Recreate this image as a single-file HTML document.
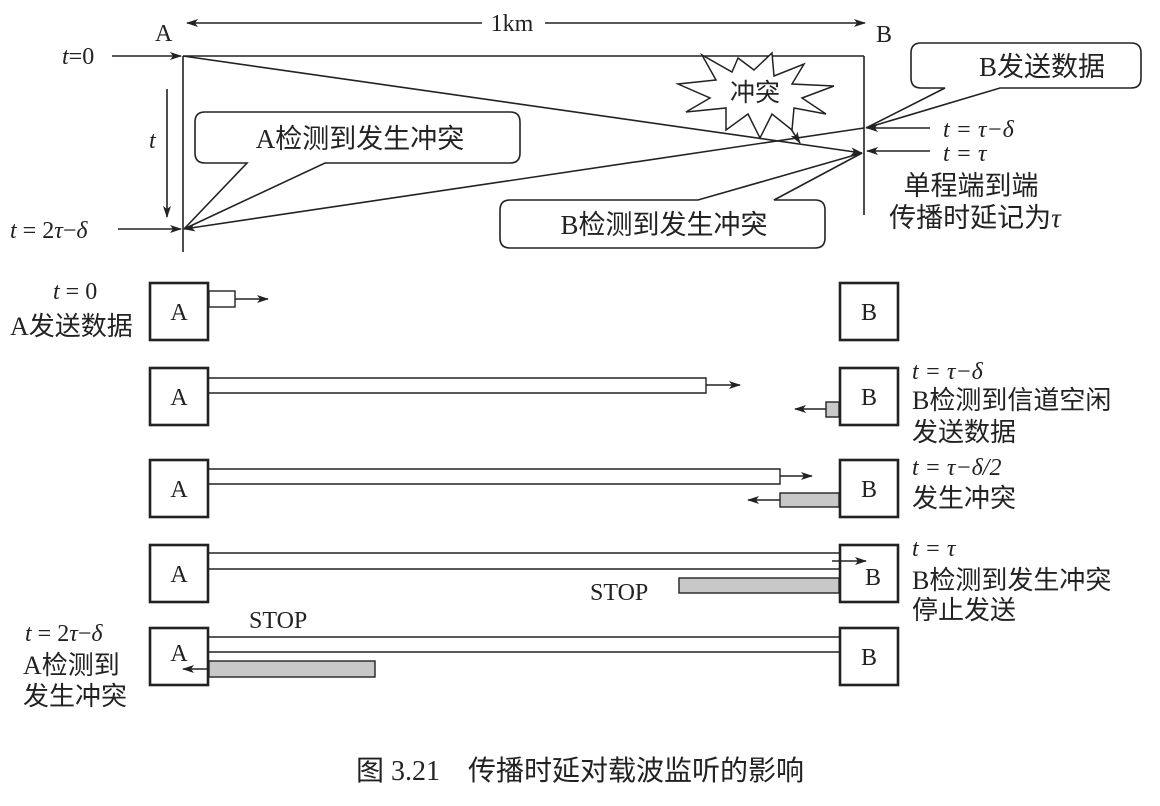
<!DOCTYPE html>
<html><head><meta charset="utf-8"><style>
html,body{margin:0;padding:0;background:#fff;}
svg{display:block;}
text{font-family:"Liberation Serif","Noto Sans CJK SC",serif;fill:#222;}
.c{font-family:"Liberation Serif","Noto Sans CJK SC",sans-serif;}
.i{font-style:italic;}
</style></head><body>
<svg width="1160" height="806" viewBox="0 0 1160 806" xmlns="http://www.w3.org/2000/svg">
<defs>
<marker id="ar" markerWidth="12" markerHeight="8" refX="11" refY="4" orient="auto" markerUnits="userSpaceOnUse">
<path d="M0,0 L12,4 L0,8 L3,4 Z" fill="#222"/></marker>
</defs>
<g stroke="#222" stroke-width="1.6" fill="none">
<line x1="482" y1="23" x2="187" y2="23" marker-end="url(#ar)"/>
<line x1="545" y1="23" x2="865" y2="23" marker-end="url(#ar)"/>
<line x1="183" y1="56" x2="864" y2="56"/>
<line x1="183" y1="56" x2="183" y2="252"/>
<line x1="864" y1="56" x2="864" y2="215"/>
<line x1="112" y1="56" x2="181" y2="56" marker-end="url(#ar)"/>
<line x1="118" y1="229" x2="181" y2="229" marker-end="url(#ar)"/>
<line x1="167" y1="89" x2="167" y2="217" marker-end="url(#ar)"/>
<line x1="183" y1="56" x2="862" y2="153" marker-end="url(#ar)"/>
<line x1="864" y1="128" x2="184" y2="229" marker-end="url(#ar)"/>
<line x1="930" y1="128" x2="867" y2="128" marker-end="url(#ar)"/>
<line x1="930" y1="151" x2="867" y2="151" marker-end="url(#ar)"/>
<line x1="782" y1="115" x2="800" y2="143" marker-end="url(#ar)"/>
</g>
<path d="M205,112 H510 Q520,112 520,122 V153 Q520,163 510,163 H325 L184,229 L247,163 H205 Q195,163 195,153 V122 Q195,112 205,112 Z" fill="#fff" stroke="#222" stroke-width="1.6"/>
<text x="360" y="148" font-size="27" text-anchor="middle" class="c">A检测到发生冲突</text>
<path d="M510,200 H698 L862,153 L774,200 H815 Q825,200 825,210 V238 Q825,248 815,248 H510 Q500,248 500,238 V210 Q500,200 510,200 Z" fill="#fff" stroke="#222" stroke-width="1.6"/>
<text x="664" y="234" font-size="27" text-anchor="middle" class="c">B检测到发生冲突</text>
<path d="M921,43 H1131 Q1141,43 1141,53 V78 Q1141,88 1131,88 H1000 L866,128 L945,88 H921 Q911,88 911,78 V53 Q911,43 921,43 Z" fill="#fff" stroke="#222" stroke-width="1.6"/>
<text x="1042" y="76" font-size="27" text-anchor="middle" class="c">B发送数据</text>
<polygon points="738,58 754,70 772,53 774,76 804,64 792,84 834,86 802,98 826,114 794,108 792,130 772,114 760,138 748,114 726,130 726,108 686,112 710,98 678,84 716,80 702,55 732,72" fill="#fff" stroke="#222" stroke-width="1.5"/>
<text x="755" y="101" font-size="25" text-anchor="middle" class="c">冲突</text>
<text x="155" y="41" font-size="24">A</text>
<text x="876" y="42" font-size="24">B</text>
<text x="512" y="31" font-size="24" text-anchor="middle">1km</text>
<text x="62" y="64" font-size="24"><tspan class="i">t</tspan>=0</text>
<text x="149" y="148" font-size="24" class="i">t</text>
<text x="10" y="238" font-size="24"><tspan class="i">t</tspan> = 2<tspan class="i">τ</tspan>−<tspan class="i">δ</tspan></text>
<text x="943" y="137" font-size="24" class="i">t = τ−δ</text>
<text x="943" y="161" font-size="24" class="i">t = τ</text>
<text x="971" y="195" font-size="27" text-anchor="middle" class="c">单程端到端</text>
<text x="975" y="227" font-size="27" text-anchor="middle" class="c">传播时延记为<tspan class="i">τ</tspan></text>
<g fill="#fff" stroke="#222" stroke-width="2.6">
<rect x="150" y="283" width="58" height="57"/><rect x="840" y="283" width="58" height="57"/>
<rect x="150" y="368" width="58" height="57"/><rect x="840" y="368" width="58" height="57"/>
<rect x="150" y="460" width="58" height="57"/><rect x="840" y="460" width="58" height="57"/>
<rect x="150" y="545" width="58" height="57"/><rect x="840" y="545" width="58" height="57"/>
<rect x="150" y="628" width="58" height="57"/><rect x="840" y="628" width="58" height="57"/>
</g>
<g font-size="24" text-anchor="middle">
<text x="179" y="320">A</text><text x="869" y="320">B</text>
<text x="179" y="405">A</text><text x="869" y="405">B</text>
<text x="179" y="497">A</text><text x="869" y="497">B</text>
<text x="179" y="582">A</text><text x="873" y="585">B</text>
<text x="179" y="661">A</text><text x="869" y="665">B</text>
</g>
<g stroke="#222" stroke-width="1.4" fill="none">
<rect x="209" y="291" width="26" height="16" fill="#fff"/>
<line x1="235" y1="299" x2="268" y2="299" marker-end="url(#ar)"/>
<path d="M209,378 H706 V393 H209"/>
<line x1="706" y1="385" x2="740" y2="385" marker-end="url(#ar)"/>
<rect x="826" y="402" width="13" height="15" fill="#c8c8c8"/>
<line x1="826" y1="409" x2="795" y2="409" marker-end="url(#ar)"/>
<path d="M209,469 H780 V484 H209"/>
<line x1="780" y1="476" x2="812" y2="476" marker-end="url(#ar)"/>
<rect x="780" y="493" width="59" height="14" fill="#c8c8c8"/>
<line x1="780" y1="500" x2="748" y2="500" marker-end="url(#ar)"/>
<line x1="209" y1="553" x2="840" y2="553"/>
<line x1="209" y1="569" x2="840" y2="569"/>
<line x1="832" y1="561" x2="866" y2="561" marker-end="url(#ar)"/>
<rect x="679" y="578" width="160" height="15" fill="#c8c8c8"/>
<line x1="209" y1="637" x2="840" y2="637"/>
<line x1="209" y1="652" x2="840" y2="652"/>
<rect x="209" y="661" width="166" height="16" fill="#c8c8c8"/>
<line x1="209" y1="669" x2="183" y2="669" marker-end="url(#ar)"/>
</g>
<text x="590" y="600" font-size="24">STOP</text>
<text x="249" y="628" font-size="24">STOP</text>
<text x="53" y="299" font-size="24"><tspan class="i">t</tspan> = 0</text>
<text x="10" y="335" font-size="26" class="c">A发送数据</text>
<text x="912" y="379" font-size="24" class="i">t = τ−δ</text>
<text x="912" y="409" font-size="26" class="c">B检测到信道空闲</text>
<text x="912" y="441" font-size="26" class="c">发送数据</text>
<text x="912" y="475" font-size="24" class="i">t = τ−δ/2</text>
<text x="912" y="507" font-size="26" class="c">发生冲突</text>
<text x="912" y="556" font-size="24" class="i">t = τ</text>
<text x="912" y="589" font-size="26" class="c">B检测到发生冲突</text>
<text x="912" y="619" font-size="26" class="c">停止发送</text>
<text x="25" y="641" font-size="24"><tspan class="i">t</tspan> = 2<tspan class="i">τ</tspan>−<tspan class="i">δ</tspan></text>
<text x="23" y="674" font-size="26" class="c">A检测到</text>
<text x="23" y="705" font-size="26" class="c">发生冲突</text>
<text x="580" y="780" font-size="28" text-anchor="middle" fill="#333" class="c">图 3.21　传播时延对载波监听的影响</text>
</svg>
</body></html>
